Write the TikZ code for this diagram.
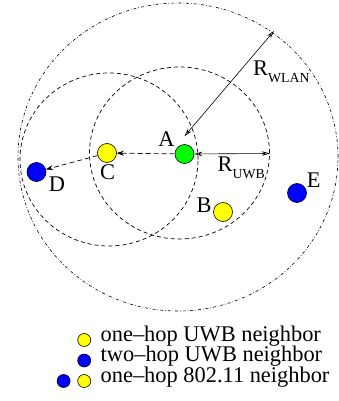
\documentclass[tikz,border=0pt]{standalone}
\usepackage{fontspec}
\setmainfont{Liberation Serif}
\usetikzlibrary{positioning,arrows.meta}
\definecolor{hopgreen}{RGB}{0,255,0}
\definecolor{hopyellow}{RGB}{255,255,0}
\definecolor{hopblue}{RGB}{0,0,255}
\newcommand{\rangesub}[1]{\raisebox{-6.5pt}{\fontsize{13.8}{14}\selectfont #1}}

\begin{document}
\begin{tikzpicture}[x=1pt, y=-1pt,
    station/.style={circle, draw=black, line width=0.6pt, inner sep=0pt, minimum size=19pt},
    keydot/.style={circle, draw=black, line width=0.6pt, inner sep=0pt, minimum size=13pt},
    lbl/.style={font=\fontsize{22.4}{26}\selectfont, inner sep=0pt},
    uwbrange/.style={dash pattern=on 4pt off 3pt, line width=0.7pt},
    wlanrange/.style={dash pattern=on 3pt off 2pt on 0.6pt off 2pt, line width=0.6pt},
    hop/.style={dash pattern=on 5pt off 3pt, line width=0.7pt, -{Stealth[length=7pt,width=5pt]}},
    rangearrow/.style={line width=0.6pt, {Stealth[open,length=8pt,width=4.5pt]}-{Stealth[open,length=8pt,width=4.5pt]}}]
    \useasboundingbox (0,0) rectangle (339,401);

    % radio ranges
    \draw[wlanrange] (178,157) ellipse [x radius=160pt, y radius=154pt];
    \draw[uwbrange] (179.5,153) ellipse [x radius=90pt, y radius=86pt];
    \draw[uwbrange] (109,159.5) ellipse [x radius=89pt, y radius=86.5pt];

    % stations
    \node[station, fill=hopgreen] (A) at (184.5,154) {};
    \node[station, fill=hopyellow] (C) at (107,153) {};
    \node[station, fill=hopblue] (D) at (36.5,172) {};
    \node[station, fill=hopyellow] (B) at (223,212) {};
    \node[station, fill=hopblue] (E) at (297,193) {};
    \node[lbl] (labA) at ([xshift=-18pt,yshift=15pt]A) {A};
    \node[lbl] (labC) at ([xshift=0.5pt,yshift=-18.7pt]C) {C};
    \node[lbl] (labD) at ([xshift=20.5pt,yshift=-12pt]D) {D};
    \node[lbl] (labB) at ([xshift=-19pt,yshift=7pt]B) {B};
    \node[lbl] (labE) at ([xshift=16.7pt,yshift=12.7pt]E) {E};

    % range arrows
    \coordinate (wlanrim) at (274,31);
    \coordinate (wlanfoot) at ([yshift=8pt]A.north);
    \draw[rangearrow] (wlanfoot) -- (wlanrim);
    \coordinate (uwbrim) at (270,153.5);
    \draw[rangearrow] (A) -- (uwbrim);
    \node[lbl, anchor=base west] (rwlan) at (253,76) {R\rangesub{WLAN}};
    \node[lbl, anchor=base west] (ruwb) at (217.5,171.7) {R\rangesub{UWB}};

    % hops
    \draw[hop] (A) -- (C);
    \draw[hop] (C) -- (D);

    % legend
    \node[keydot, fill=hopyellow] (k1) at (84.2,340) {};
    \node[lbl, anchor=base west] (k1t) at ([xshift=9.5pt,yshift=-1pt]k1.east) {one--hop UWB neighbor};
    \node[keydot, fill=hopblue] (k2) at (84.2,360.5) {};
    \node[lbl, anchor=base west] (k2t) at ([xshift=9.5pt,yshift=-1pt]k2.east) {two--hop UWB neighbor};
    \node[keydot, fill=hopyellow] (k3) at (84.2,381) {};
    \node[keydot, fill=hopblue, left=7pt of k3] (k3b) {};
    \node[lbl, anchor=base west] (k3t) at ([xshift=9.5pt,yshift=-1pt]k3.east) {one--hop 802.11 neighbor};
\end{tikzpicture}
\end{document}
